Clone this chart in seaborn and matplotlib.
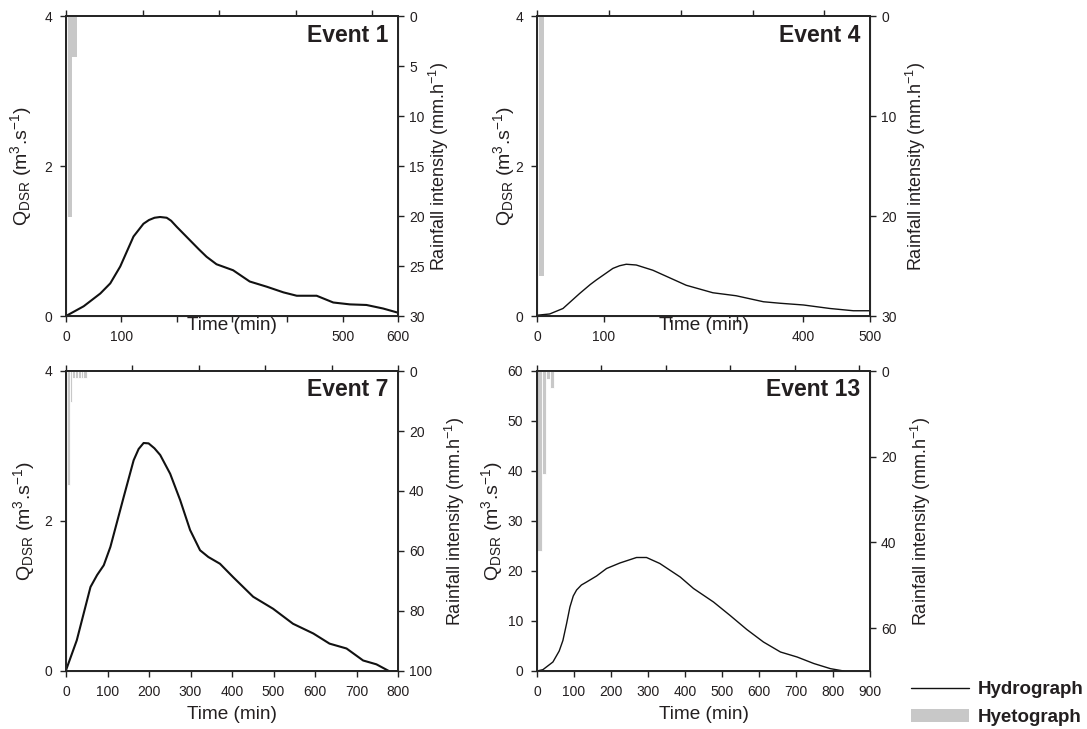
import numpy as np
import matplotlib
matplotlib.use("Agg")
import matplotlib.pyplot as plt
from matplotlib.ticker import MultipleLocator
from matplotlib.lines import Line2D
from matplotlib.patches import Patch
import seaborn as sns

# Event 1
e1_time = [0, 32, 62, 80, 98, 110, 122, 140, 150, 160, 170, 182, 190, 200, 224, 240, 254,
           272, 302, 332, 363, 393, 417, 453, 483, 513, 543, 573, 600]
e1_q = [0, 0.13, 0.30, 0.435, 0.66, 0.86, 1.06, 1.23, 1.28, 1.31, 1.32, 1.31, 1.27, 1.19,
        1.01, 0.89, 0.79, 0.69, 0.61, 0.46, 0.39, 0.315, 0.27, 0.27, 0.18, 0.155, 0.147,
        0.10, 0.044]
e1_rain_edges = [4, 11, 20]
e1_rain = [20.1, 4.1]
e1_xticklabels = ["0", "100", "", "", "", "500", "600"]

# Event 4
e4_time = [0, 19, 39, 64, 80, 89, 114, 124, 134, 149, 174, 199, 224, 264, 299, 340, 365,
           400, 440, 475, 500]
e4_q = [0.01, 0.027, 0.10, 0.30, 0.42, 0.48, 0.635, 0.67, 0.69, 0.68, 0.61, 0.51, 0.41,
        0.31, 0.27, 0.19, 0.17, 0.147, 0.10, 0.07, 0.07]
e4_rain_edges = [3, 11]
e4_rain = [26]
e4_xticklabels = ["0", "100", "", "", "400", "500"]

# Event 7
e7_time = [0, 26, 59, 75, 91, 107, 139, 163, 175, 187, 199, 213, 227, 251, 275, 299, 323,
           343, 371, 403, 451, 499, 547, 596, 635, 676, 716, 748, 778]
e7_q = [0.01, 0.41, 1.12, 1.28, 1.41, 1.655, 2.32, 2.81, 2.96, 3.04, 3.035, 2.97, 2.88,
        2.63, 2.28, 1.88, 1.61, 1.52, 1.43, 1.25, 0.99, 0.83, 0.63, 0.50, 0.365, 0.30,
        0.14, 0.089, 0.0]
e7_rain_edges = [2, 9, 14, 21, 28, 35, 42, 50]
e7_rain = [38, 10.2, 2.3, 2.3, 2.3, 2.3, 2.3]
e7_xticklabels = ["0", "100", "200", "300", "400", "500", "600", "700", "800"]

# Event 13
e13_time = [0, 16, 43, 60, 70, 80, 89, 98, 107, 120, 134, 161, 188, 224, 269, 296, 332,
            387, 423, 477, 522, 567, 612, 658, 703, 748, 793, 829]
e13_q = [0, 0.27, 1.8, 4.0, 6.1, 9.5, 12.8, 15.0, 16.2, 17.2, 17.8, 19.0, 20.5, 21.6, 22.7,
         22.7, 21.5, 18.8, 16.5, 13.8, 11.1, 8.3, 5.8, 3.8, 2.8, 1.5, 0.47, 0.0]
e13_rain_edges = [1, 13, 25, 35, 45]
e13_rain = [42.0, 24.1, 1.95, 4.05]
e13_xticklabels = ["0", "100", "200", "300", "400", "500", "600", "700", "800", "900"]

event_names = ["Event 1", "Event 4", "Event 7", "Event 13"]

sns.set_style("ticks")
plt.rcParams["font.family"] = ["Liberation Sans", "DejaVu Sans"]
plt.rcParams["mathtext.fontset"] = "custom"
plt.rcParams["mathtext.rm"] = "Liberation Sans"
plt.rcParams["mathtext.it"] = "Liberation Sans"

text_col = "#231f20"
bar_col = "#c8c8c8"

fig = plt.figure(figsize=(10.87, 7.29), dpi=100)

# axes boxes in pixels: left, top, right, bottom
W, H = 1087, 729
boxes = [(66, 16, 398, 316), (537, 16, 870, 316), (66, 371, 398, 671), (537, 371, 870, 671)]
ypads = [7.5, -1.5, 5.5, 2]
rpads = [1.5, 5, 7.5, 9]

panels = [
    (e1_time, e1_q, e1_rain_edges, e1_rain, e1_xticklabels, 600, 100, 4, 2, 30, 5, 130, 1.5, True),
    (e4_time, e4_q, e4_rain_edges, e4_rain, e4_xticklabels, 500, 100, 4, 2, 30, 10, 139, 1.0, True),
    (e7_time, e7_q, e7_rain_edges, e7_rain, e7_xticklabels, 800, 100, 4, 2, 100, 20, 150, 1.5, False),
    (e13_time, e13_q, e13_rain_edges, e13_rain, e13_xticklabels, 900, 100, 60, 10, 70, 20, 155, 1.0, False),
]

ylab = r"Q$_{\mathregular{DSR}}$ (m$^{3}$.s$^{-1}$)"
rlab = r"Rainfall intensity (mm.h$^{-1}$)"

for (box, name, p, yp, rp) in zip(boxes, event_names, panels, ypads, rpads):
    t, q, edges, rain, xtl, xmax, xstep, ymax, ystep, rmax, rstep, topmax, lw, top_row = p
    l, tp, r, b = box
    ax = fig.add_axes([l / W, 1 - b / H, (r - l) / W, (b - tp) / H])

    sns.lineplot(x=t, y=q, ax=ax, color="#111111", linewidth=lw)
    ax.set_xlim(0, xmax)
    ax.set_ylim(0, ymax)
    ax.set_xticks(np.arange(0, xmax + 1, xstep))
    ax.set_xticklabels(xtl)
    ax.yaxis.set_major_locator(MultipleLocator(ystep))
    ax.tick_params(direction="out", length=4, width=1, labelsize=10,
                   labelcolor=text_col, colors="#222222", pad=6)
    ax.tick_params(axis="x", pad=6)
    ax.set_ylabel(ylab, fontsize=14, color=text_col, labelpad=yp)
    if top_row:
        ax.set_xlabel("Time (min)", fontsize=13.7, color=text_col, va="top")
        ax.xaxis.set_label_coords(0.5, -0.005)
    else:
        ax.set_xlabel("Time (min)", fontsize=13.7, color=text_col, labelpad=5)
    for s in ax.spines.values():
        s.set_linewidth(1.2)
        s.set_color("#222222")

    # hyetograph on inverted right axis
    ax2 = ax.twinx()
    ax2.bar(edges[:-1], rain, width=np.diff(edges), align="edge", color=bar_col,
            edgecolor="white" if len(rain) > 3 else "none", linewidth=0.6)
    ax2.set_ylim(rmax, 0)
    ax2.yaxis.set_major_locator(MultipleLocator(rstep))
    ax2.tick_params(direction="out", length=4, width=1, labelsize=10,
                    labelcolor=text_col, colors="#222222", pad=4)
    ax2.set_ylabel(rlab, fontsize=13, color=text_col, labelpad=rp)
    for s in ax2.spines.values():
        s.set_linewidth(1.2)
        s.set_color("#222222")

    # separate top time axis for the rain record
    ax3 = ax.twiny()
    ax3.set_xlim(0, topmax)
    ax3.xaxis.set_major_locator(MultipleLocator(30))
    ax3.tick_params(axis="x", direction="out", length=4, width=1, labeltop=False,
                    colors="#222222")
    ax3.spines["top"].set_linewidth(1.2)

    ax.text(0.97, 0.975, name, transform=ax.transAxes, ha="right", va="top",
            fontsize=16.5, fontweight="bold", color=text_col)

handles = [Line2D([0], [0], color="#111111", linewidth=1.0),
           Patch(facecolor=bar_col, edgecolor="none")]
fig.legend(handles, ["Hydrograph", "Hyetograph"], loc="lower right",
           bbox_to_anchor=(1.007, -0.011), frameon=False, handlelength=3.1,
           handletextpad=0.45, labelspacing=0.55, borderaxespad=0.2,
           prop={"weight": "bold", "size": 13.5}, labelcolor=text_col)

fig.savefig("out.png", dpi=100)
